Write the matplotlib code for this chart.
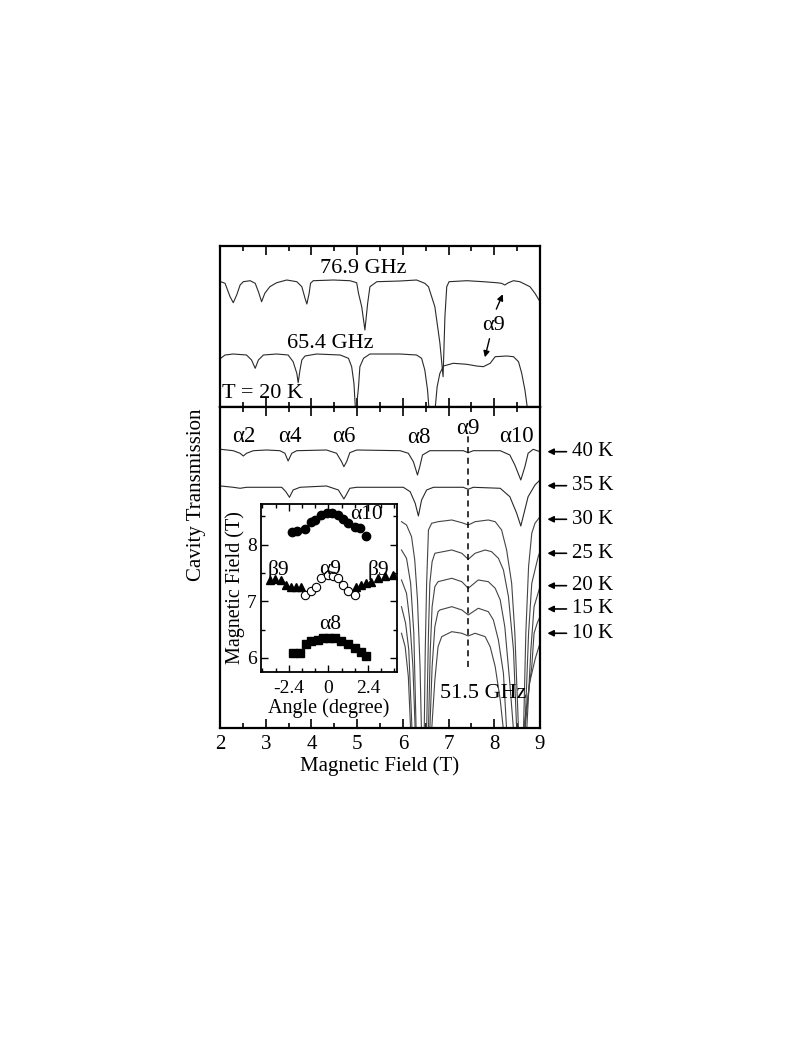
import numpy as np
import matplotlib
matplotlib.use("Agg")
import matplotlib.pyplot as plt
from matplotlib.ticker import MultipleLocator

plt.rcParams['font.family'] = ['Liberation Serif', 'DejaVu Serif']
plt.rcParams['mathtext.fontset'] = 'stix'

# ---- top panel, T = 20 K (field in T, transmission in arb. units) ----
b_769 = [2.015, 2.11, 2.22, 2.29, 2.365, 2.44, 2.51, 2.66, 2.77, 2.84, 2.91, 2.98, 3.09, 3.24,
         3.46, 3.68, 3.79, 3.86, 3.90, 3.95, 3.98, 4.04, 4.48, 4.84, 4.99, 5.03, 5.10, 5.17, 5.23,
         5.28, 5.43, 5.94, 6.30, 6.48, 6.56, 6.70, 6.81, 6.88, 6.92, 6.96, 7.01, 7.40, 7.76, 8.05,
         8.16, 8.23, 8.31, 8.42, 8.56, 8.78, 8.89, 9.0]
t_769 = [125.3, 123.7, 110.3, 104.3, 112, 122, 125.3, 126.3, 123.7, 115.3, 105.3, 113.7, 120.3, 124.3,
         127, 125.3, 120.3, 108.7, 103, 113.7, 123.7, 126.3, 127, 126.3, 124.3, 113.7, 100.3, 77, 103.7,
         120.3, 125.3, 126, 127, 123.7, 120.3, 100.3, 64, 30.3, 90.3, 120.3, 125.3, 126.3, 125.3, 124.3,
         123.7, 122, 124.3, 126.3, 125.3, 120.3, 113.7, 105.3]

b_654 = [2.015, 2.11, 2.29, 2.58, 2.69, 2.77, 2.84, 2.95, 3.24, 3.49, 3.60, 3.68, 3.71, 3.75, 3.79,
         3.86, 4.11, 4.63, 4.81, 4.88, 4.93, 4.97, 5.03, 5.06, 5.14, 5.28, 5.94, 6.30, 6.41, 6.48,
         6.54, 6.61, 6.70, 6.75, 6.81, 6.89, 7.10, 7.40, 7.61, 7.76, 7.91, 8.02, 8.27, 8.42, 8.53,
         8.60, 8.67, 8.72, 8.78]
t_654 = [48.7, 52, 53, 52, 47, 38.7, 47, 52, 53, 52, 45.3, 33.7, 24.3, 37, 47,
         51, 53, 52, 48.7, 40.3, 23.7, -8, 20.3, 40.3, 48.7, 53, 53, 52, 48.7, 37,
         17, -25, -5, 20.3, 33.7, 41, 43.7, 42.7, 41, 40.3, 43.7, 50.3, 51, 50.3, 45.3,
         33.7, 17, 0.3, -20]

# ---- bottom panel, 51.5 GHz, temperature series ----
b_40 = [2.015, 2.29, 2.44, 2.51, 2.58, 2.73, 3.02, 3.31, 3.42, 3.49, 3.57, 3.68, 4.33, 4.55, 4.66,
        4.71, 4.77, 4.84, 4.99, 5.94, 6.12, 6.23, 6.32, 6.37, 6.43, 6.59, 7.32, 7.43, 7.54, 8.13,
        8.34, 8.45, 8.58, 8.67, 8.74, 8.85, 9.0]
t_40 = [278.7, 277.3, 274.7, 272, 274.7, 277.3, 278, 277.3, 274.7, 267, 274.7, 277.3, 278, 274.7, 266.3,
        261.3, 266.3, 275.3, 278, 277.3, 274.7, 266.3, 253, 261.3, 273, 277.3, 277.3, 275.3, 277.3, 277.3,
        273, 263, 248, 261.3, 274.7, 278.7, 276.3]

b_35 = [2.015, 2.29, 2.44, 2.58, 3.02, 3.35, 3.44, 3.52, 3.60, 3.75, 4.33, 4.59, 4.68, 4.71, 4.76,
        4.84, 4.99, 5.65, 6.01, 6.16, 6.27, 6.34, 6.41, 6.52, 6.67, 7.32, 7.43, 7.54, 8.13, 8.34,
        8.49, 8.58, 8.65, 8.74, 8.89, 9.0]
t_35 = [242, 240.7, 239.7, 240.7, 240.7, 240.7, 236.3, 230.7, 238, 240.7, 242, 238, 231.3, 229, 233,
        239.7, 240.7, 240.7, 240.7, 236.3, 224.7, 212, 228, 238, 240.7, 240.7, 238.7, 240.7, 239.7, 231.3,
        214.7, 202, 214.7, 231.3, 243, 248]

b_30 = [5.97, 6.08, 6.19, 6.26, 6.32, 6.376, 6.41, 6.46, 6.49, 6.52, 6.56, 6.63, 6.77, 7.07, 7.29,
        7.43, 7.58, 7.87, 8.02, 8.16, 8.27, 8.38, 8.45, 8.53, 8.58, 8.64, 8.69, 8.75, 8.82, 8.89, 9.0]
t_30 = [206.3, 203, 191.3, 168, 128, 61.3, -10, -30, 78, 144.7, 198, 204.7, 206.3, 208, 205.3,
        203, 206.3, 208, 206.3, 198, 178, 144.7, 94.7, -2, -30, -2, 94.7, 161.3, 194.7, 204.7, 211.3]

b_25 = [5.97, 6.08, 6.17, 6.24, 6.29, 6.40, 6.52, 6.56, 6.59, 6.64, 6.70, 7.07, 7.29, 7.43, 7.58,
        7.80, 7.94, 8.09, 8.20, 8.31, 8.42, 8.49, 8.56, 8.67, 8.75, 8.82, 8.96, 9.0]
t_25 = [178, 169.7, 144.7, 94.7, -2, -40, -2, 94.7, 144.7, 166.3, 174.7, 178, 174.7, 168.7, 174.7,
        178, 176.3, 169.7, 158, 131.3, 78, -2, -40, -2, 94.7, 144.7, 171.3, 176.3]

b_20 = [5.97, 6.08, 6.15, 6.22, 6.27, 6.40, 6.56, 6.60, 6.64, 6.70, 6.77, 7.07, 7.29, 7.43, 7.65,
        7.87, 8.02, 8.13, 8.23, 8.34, 8.42, 8.53, 8.71, 8.80, 8.87, 9.0]
t_20 = [148, 134.7, 108, 61.3, -2, -45, -2, 78, 121.3, 141.3, 146.3, 149.7, 146.3, 139.7, 148,
        146.3, 139.7, 128, 101.3, 44.7, -2, -45, -2, 78, 121.3, 141.3]

b_15 = [5.97, 6.06, 6.13, 6.20, 6.40, 6.59, 6.64, 6.70, 6.77, 6.81, 7.07, 7.29, 7.43, 7.65, 7.87,
        7.98, 8.09, 8.20, 8.27, 8.45, 8.64, 8.82, 8.87, 8.94, 9.0]
t_15 = [121.3, 104.7, 78, -2, -50, -2, 61.3, 101.3, 116.3, 118, 121.3, 118, 113, 119.7, 116.3,
        108, 88, 54.7, -2, -50, -2, 61.3, 94.7, 105, 111.3]

b_10 = [5.97, 6.05, 6.12, 6.17, 6.40, 6.63, 6.70, 6.77, 6.85, 7.07, 7.29, 7.43, 7.58, 7.80, 7.91,
        8.02, 8.13, 8.20, 8.45, 8.67, 8.77, 8.90, 9.0]
t_10 = [94.7, 81.3, 51.3, -2, -50, -2, 48, 81.3, 91.3, 96.3, 94.7, 92, 94.7, 91.3, 81.3,
        61.3, 28, -2, -50, -2, 44.7, 70, 84.7]

low_t_curves = [(b_30, t_30), (b_25, t_25), (b_20, t_20), (b_15, t_15), (b_10, t_10)]

temp_labels = ['40 K', '35 K', '30 K', '25 K', '20 K', '15 K', '10 K']
temp_levels = [276.3, 242.3, 208.7, 174.7, 142.3, 119, 94.7]

mode_labels = ['α2', 'α4', 'α6', 'α8', 'α9', 'α10']
mode_fields = [2.51, 3.52, 4.71, 6.34, 7.43, 8.49]
mode_label_y = [291.3, 291.3, 291.3, 290, 299, 291.3]
alpha9_field = 7.43
alpha9_span = (61.3, 293)

# ---- inset: resonance field vs angle ----
ang_a10 = [-2.2, -1.88, -1.44, -1.07, -0.79, -0.43, -0.06, 0.22, 0.59, 0.89, 1.2, 1.6, 1.94, 2.31]
fld_a10 = [8.23, 8.25, 8.28, 8.40, 8.44, 8.53, 8.56, 8.56, 8.53, 8.45, 8.38, 8.32, 8.29, 8.15]
ang_b9 = [-3.56, -3.26, -2.9, -2.55, -2.25, -1.94, -1.64, 1.70, 2.0, 2.31, 2.61, 3.02, 3.42, 3.93]
fld_b9 = [7.38, 7.39, 7.38, 7.29, 7.26, 7.26, 7.26, 7.26, 7.29, 7.32, 7.35, 7.41, 7.45, 7.47]
ang_a9 = [-1.44, -1.03, -0.73, -0.43, -0.02, 0.28, 0.59, 0.89, 1.2, 1.6]
fld_a9 = [7.12, 7.18, 7.26, 7.41, 7.47, 7.45, 7.41, 7.29, 7.18, 7.12]
ang_a8 = [-2.15, -1.74, -1.34, -1.03, -0.63, -0.32, 0.02, 0.38, 0.79, 1.2, 1.6, 1.96, 2.31]
fld_a8 = [6.09, 6.09, 6.25, 6.29, 6.32, 6.35, 6.36, 6.35, 6.29, 6.25, 6.18, 6.11, 6.03]

line_c = '#2a2a2a'
fig = plt.figure(figsize=(8, 10.38), dpi=100)
ax_top = fig.add_axes([0.275, 0.6079, 0.4, 0.1551])
ax_bot = fig.add_axes([0.275, 0.2987, 0.4, 0.3092])
ax_in = fig.add_axes([0.326, 0.3526, 0.17, 0.1618])

for ax in (ax_top, ax_bot):
    ax.set_xlim(2, 9)
    ax.xaxis.set_major_locator(MultipleLocator(1))
    ax.xaxis.set_minor_locator(MultipleLocator(0.5))
    ax.tick_params(axis='x', which='both', direction='in', top=True, bottom=True, width=1.2)
    ax.tick_params(axis='x', which='major', length=6.5)
    ax.tick_params(axis='x', which='minor', length=3.5)
    ax.set_yticks([])
    for s in ax.spines.values():
        s.set_linewidth(1.6)

ax_top.set_ylim(0, 161)
ax_top.tick_params(axis='x', labelbottom=False)
ax_bot.set_ylim(0, 321)
ax_bot.tick_params(axis='x', labelsize=15, pad=5)
ax_bot.set_xlabel('Magnetic Field (T)', fontsize=15, labelpad=2)
fig.text(0.246, 0.523, 'Cavity Transmission', rotation=90, fontsize=15, ha='center', va='center')

ax_top.plot(b_769, t_769, color=line_c, lw=0.8)
ax_top.plot(b_654, t_654, color=line_c, lw=0.8)
ax_top.text(5.14, 138.7, '76.9 GHz', fontsize=16, ha='center', va='center')
ax_top.text(4.41, 63.7, '65.4 GHz', fontsize=16, ha='center', va='center')
ax_top.text(2.04, 13.7, 'T = 20 K', fontsize=16, ha='left', va='center')
ax_top.text(7.98, 82, 'α9', fontsize=16, ha='center', va='center')
ax_top.annotate('', xy=(8.21, 115.3), xytext=(8.02, 95.3),
                arrowprops=dict(arrowstyle='-|>', color='black', lw=1.0, mutation_scale=9))
ax_top.annotate('', xy=(7.78, 47), xytext=(7.91, 71),
                arrowprops=dict(arrowstyle='-|>', color='black', lw=1.0, mutation_scale=9))

ax_bot.plot(b_40, t_40, color=line_c, lw=0.8)
ax_bot.plot(b_35, t_35, color=line_c, lw=0.8)
for b, t in low_t_curves:
    ax_bot.plot(b, t, color='#444444', lw=0.8)
ax_bot.plot([alpha9_field, alpha9_field], alpha9_span, color='black', lw=1.1, ls=(0, (4, 3)))
for lab, xf, yl in zip(mode_labels, mode_fields, mode_label_y):
    ax_bot.text(xf, yl, lab, fontsize=16.5, ha='center', va='center')
ax_bot.text(7.76, 34.7, '51.5 GHz', fontsize=16, ha='center', va='center')

for lab, lev in zip(temp_labels, temp_levels):
    ax_bot.annotate('', xy=(9.1, lev), xytext=(9.64, lev), annotation_clip=False,
                    arrowprops=dict(arrowstyle='-|>', color='black', lw=1.2, mutation_scale=9))
    ax_bot.text(9.7, lev, lab, fontsize=15, ha='left', va='center', clip_on=False)

ax_in.set_facecolor('white')
ax_in.set_zorder(5)
ax_in.plot(ang_a10, fld_a10, 'o', color='black', ms=6)
ax_in.plot(ang_b9, fld_b9, '^', color='black', ms=6)
ax_in.plot(ang_a9, fld_a9, 'o', mfc='white', mec='black', mew=0.8, ms=6)
ax_in.plot(ang_a8, fld_a8, 's', color='black', ms=5.5)
ax_in.set_xlim(-4.1, 4.15)
ax_in.set_ylim(5.75, 8.72)
ax_in.set_xticks([-2.4, 0, 2.4])
ax_in.set_xticklabels(['-2.4', '0', '2.4'])
ax_in.xaxis.set_minor_locator(MultipleLocator(0.8))
ax_in.yaxis.set_major_locator(MultipleLocator(1))
ax_in.yaxis.set_minor_locator(MultipleLocator(0.5))
ax_in.tick_params(which='both', direction='in', top=True, right=True, labelsize=14, width=1.0)
ax_in.tick_params(axis='x', pad=6)
ax_in.tick_params(axis='y', pad=3)
ax_in.tick_params(which='major', length=5)
ax_in.tick_params(which='minor', length=3)
for s in ax_in.spines.values():
    s.set_linewidth(1.3)
ax_in.set_xlabel('Angle (degree)', fontsize=14.5, labelpad=1)
ax_in.set_ylabel('Magnetic Field (T)', fontsize=14.5, labelpad=1)
ax_in.text(2.31, 8.53, 'α10', fontsize=15.5, ha='center', va='center')
ax_in.text(-3.06, 7.56, 'β9', fontsize=15.5, ha='center', va='center')
ax_in.text(0.08, 7.56, 'α9', fontsize=15.5, ha='center', va='center')
ax_in.text(3.06, 7.56, 'β9', fontsize=15.5, ha='center', va='center')
ax_in.text(0.08, 6.59, 'α8', fontsize=15.5, ha='center', va='center')

fig.savefig('out.png', dpi=100)
